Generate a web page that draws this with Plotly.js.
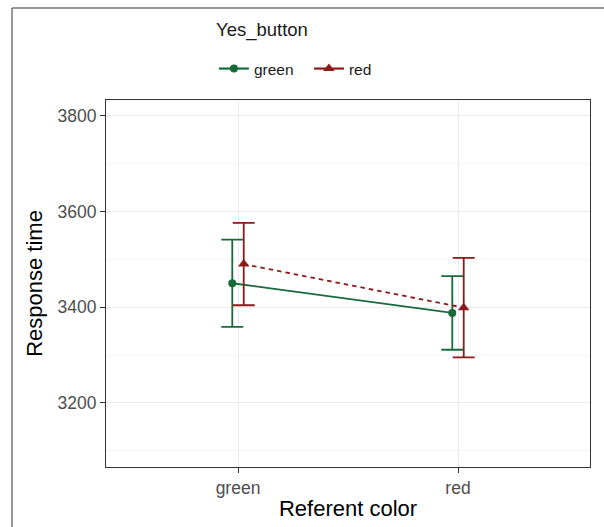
<!DOCTYPE html>
<html>
<head>
<meta charset="utf-8">
<script src="https://cdn.plot.ly/plotly-3.0.1.min.js"></script>
<style>
html, body { margin: 0; padding: 0; background: #ffffff; }
#chart { width: 604px; height: 527px; }
</style>
</head>
<body>
<div id="chart"></div>
<script>
// Data
const categories = ["green", "red"];           // Referent color (x axis)
const seriesNames = ["green", "red"];          // Yes_button (legend)
const greenMeans = [3450, 3388];
const greenErr   = [91, 77];
const redMeans   = [3490, 3399];
const redErr     = [86, 104];
const yTickVals  = [3200, 3400, 3600, 3800];
const legendTitle = "Yes_button";

const GREEN = "#186a3b", RED = "#8b1a1a";
const dodge = 0.026;
const xIdx = categories.map((c, i) => i);

const green = {
  type: "scatter", mode: "lines+markers", name: seriesNames[0], showlegend: false,
  x: xIdx.map(v => v - dodge), y: greenMeans,
  line: { color: GREEN, width: 1.8 },
  marker: { color: GREEN, symbol: "circle", size: 8 },
  error_y: { type: "data", array: greenErr, visible: true, color: GREEN, thickness: 1.8, width: 11 }
};
const red = {
  type: "scatter", mode: "lines+markers", name: seriesNames[1], showlegend: false,
  x: xIdx.map(v => v + dodge), y: redMeans,
  line: { color: RED, width: 1.8, dash: "4.5px,4px" },
  marker: { color: RED, symbol: "triangle-up", size: 10 },
  error_y: { type: "data", array: redErr, visible: true, color: RED, thickness: 1.8, width: 11 }
};
// legend keys (solid, as in the reference legend)
const keyGreen = { type: "scatter", mode: "lines+markers", name: seriesNames[0], x: [null], y: [null],
  line: { color: GREEN, width: 2.2 }, marker: { color: GREEN, symbol: "circle", size: 8 } };
const keyRed = { type: "scatter", mode: "lines+markers", name: seriesNames[1], x: [null], y: [null],
  line: { color: RED, width: 2.2 }, marker: { color: RED, symbol: "triangle-up", size: 10 } };

const layout = {
  width: 604, height: 527,
  margin: { l: 106, r: 14, t: 100, b: 60, pad: 0 },
  paper_bgcolor: "#ffffff", plot_bgcolor: "#ffffff",
  font: { family: "Liberation Sans, Arial, sans-serif", color: "#000000" },
  showlegend: true,
  legend: {
    orientation: "h", x: 0.223, xanchor: "left", y: 1.0845, yanchor: "middle",
    font: { size: 15.5, color: "#1a1a1a" },
    entrywidth: 50,
    bgcolor: "rgba(0,0,0,0)"
  },
  annotations: [{
    text: legendTitle, xref: "paper", yref: "paper", x: 0.322, y: 1.1907,
    xanchor: "center", yanchor: "middle", showarrow: false,
    font: { size: 18.5, color: "#1a1a1a" }
  }],
  xaxis: {
    range: [-0.6, 1.6], tickvals: xIdx, ticktext: categories,
    showgrid: true, gridcolor: "#ebebeb", gridwidth: 1,
    zeroline: false, showline: true, mirror: true, linecolor: "#333333", linewidth: 1,
    ticks: "outside", ticklen: 5, tickcolor: "#333333", tickwidth: 1,
    tickfont: { size: 17.5, color: "#4d4d4d" },
    title: { text: "Referent color", font: { size: 22, color: "#000000" }, standoff: 3 },
    automargin: false
  },
  yaxis: {
    range: [3066, 3833], tickvals: yTickVals,
    showgrid: true, gridcolor: "#ebebeb", gridwidth: 1,
    minor: { dtick: 100, tick0: 3100, showgrid: true, gridcolor: "#f2f2f2", gridwidth: 0.8, ticks: "" },
    zeroline: false, showline: true, mirror: true, linecolor: "#333333", linewidth: 1,
    ticks: "outside", ticklen: 5, tickcolor: "#333333", tickwidth: 1,
    tickfont: { size: 17.5, color: "#4d4d4d" },
    title: { text: "Response time", font: { size: 22, color: "#000000" }, standoff: 8 },
    automargin: false
  },
  shapes: [{
    type: "rect", xref: "paper", yref: "paper",
    x0: -0.1942, x1: 1.05, y0: -0.2, y1: 1.2507,
    line: { color: "#333333", width: 1 }, fillcolor: "rgba(0,0,0,0)", layer: "below"
  }]
};

Plotly.newPlot("chart", [green, red, keyGreen, keyRed], layout, { staticPlot: true, displayModeBar: false });
</script>
</body>
</html>
